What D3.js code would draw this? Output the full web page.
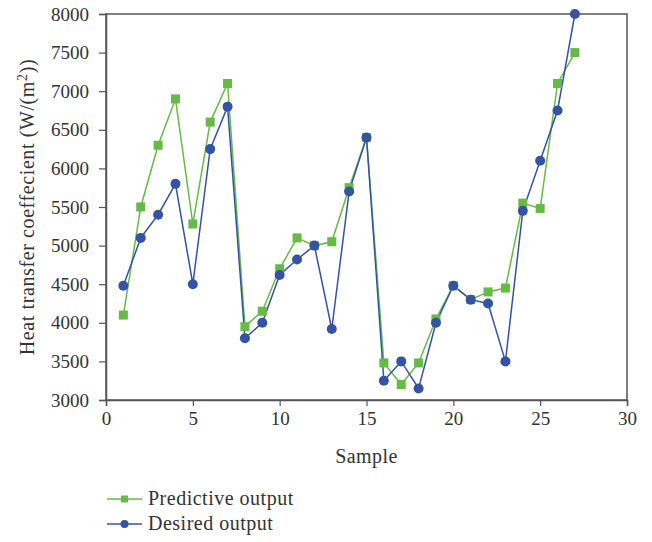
<!DOCTYPE html>
<html><head><meta charset="utf-8">
<script src="https://cdn.jsdelivr.net/npm/d3@7/dist/d3.min.js"></script>
<style>body{margin:0;background:#fff}text{font-family:"Liberation Serif","DejaVu Serif",serif;fill:#333}</style>
</head><body><svg id="c" width="652" height="542"></svg>
<script>
const samples = d3.range(1, 28);
const predictive = [4100,5500,6300,6900,5280,6600,7100,3950,4150,4700,5100,5000,5050,5750,6400,3480,3200,3480,4050,4480,4300,4400,4450,5550,5480,7100,7500];
const desired = [4480,5100,5400,5800,4500,6250,6800,3800,4000,4620,4820,5000,3920,5700,6400,3250,3500,3150,4000,4480,4300,4250,3500,5450,6100,6750,8000];
const xTicks = [0,5,10,15,20,25,30];
const yTicks = [3000,3500,4000,4500,5000,5500,6000,6500,7000,7500,8000];
const seriesNames = ["Predictive output","Desired output"];
const colors = ["#66bb46","#3553a5"];

const svg = d3.select("#c");
const L=106,R=627,T=14,B=400;
const x = d3.scaleLinear().domain([0,30]).range([L,R]);
const y = d3.scaleLinear().domain([3000,8000]).range([B,T]);
const axisColor="#555";

svg.append("rect").attr("x",L).attr("y",T).attr("width",R-L).attr("height",B-T)
  .attr("fill","none").attr("stroke",axisColor).attr("stroke-width",1.5);

const xa = svg.append("g").attr("transform",`translate(0,${B})`)
  .call(d3.axisBottom(x).tickValues(xTicks).tickSize(6).tickPadding(6).tickFormat(d3.format("d")));
const ya = svg.append("g").attr("transform",`translate(${L},0)`)
  .call(d3.axisLeft(y).tickValues(yTicks).tickSize(7).tickPadding(10).tickFormat(d3.format("d")));
[xa,ya].forEach(a=>{
  a.select(".domain").attr("stroke",axisColor).attr("stroke-width",1.5);
  a.selectAll(".tick line").attr("stroke",axisColor).attr("stroke-width",1.2);
  a.selectAll("text").style("font-size","19px").attr("fill","#333");
});

svg.append("text").attr("x",(L+R)/2).attr("y",463).attr("text-anchor","middle")
  .style("font-size","20px").style("letter-spacing","0.4px").text("Sample");
const yl = svg.append("text").attr("transform",`translate(34,${(T+B)/2}) rotate(-90)`)
  .attr("text-anchor","middle").style("font-size","20px").style("letter-spacing","0.6px");
yl.append("tspan").text("Heat transfer coeffecient (W/(m");
yl.append("tspan").attr("dy",-7).style("font-size","14px").text("2");
yl.append("tspan").attr("dy",7).text("))");

const line = d3.line().x((d,i)=>x(samples[i])).y(d=>y(d));
const data=[predictive,desired];
data.forEach((s,k)=>{
  svg.append("path").datum(s).attr("d",line).attr("fill","none")
    .attr("stroke",colors[k]).attr("stroke-width",1.5);
});
svg.append("g").selectAll("rect").data(predictive).join("rect")
  .attr("x",(d,i)=>x(samples[i])-4.5).attr("y",d=>y(d)-4.5)
  .attr("width",9).attr("height",9).attr("fill",colors[0]);
svg.append("g").selectAll("circle").data(desired).join("circle")
  .attr("cx",(d,i)=>x(samples[i])).attr("cy",d=>y(d)).attr("r",5).attr("fill",colors[1]);

// legend
const leg = svg.append("g");
seriesNames.forEach((n,k)=>{
  const ly = 499 + k*25;
  leg.append("line").attr("x1",107).attr("x2",142).attr("y1",ly).attr("y2",ly)
    .attr("stroke",colors[k]).attr("stroke-width",1.5);
  if(k===0) leg.append("rect").attr("x",121).attr("y",ly-3.5).attr("width",7).attr("height",7).attr("fill",colors[0]);
  else leg.append("circle").attr("cx",124.5).attr("cy",ly).attr("r",4).attr("fill",colors[1]);
  leg.append("text").attr("x",148).attr("y",ly+6).style("font-size","20px").style("letter-spacing","0.5px").text(n);
});
</script></body></html>
